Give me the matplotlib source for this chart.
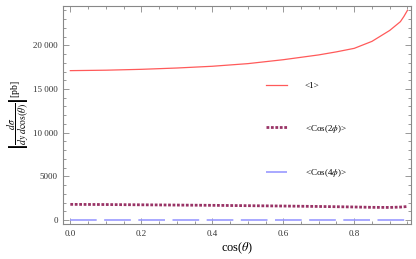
import matplotlib
matplotlib.use("Agg")
import matplotlib.pyplot as plt
from matplotlib.ticker import MultipleLocator, FuncFormatter

plt.rcParams['font.family'] = ['Liberation Serif', 'DejaVu Serif']
plt.rcParams['mathtext.fontset'] = 'stix'

# data
cos_theta = [0.0, 0.1, 0.2, 0.3, 0.4, 0.5, 0.6, 0.7, 0.75, 0.8, 0.85, 0.9, 0.93, 0.94, 0.95]
sigma_1 = [17100, 17150, 17250, 17400, 17600, 17900, 18350, 18900, 19250,
           19650, 20450, 21700, 22700, 23300, 24000]
sigma_cos2 = [1800, 1780, 1750, 1720, 1690, 1650, 1610, 1560, 1530,
              1500, 1460, 1450, 1490, 1520, 1560]
sigma_cos4 = [30, 30, 30, 30, 30, 30, 30, 30, 30, 30, 30, 30, 30, 30, 30]
labels = ['<1>', r'<Cos(2$\phi$)>', r'<Cos(4$\phi$)>']

fig = plt.figure(figsize=(4.16, 2.59), dpi=100)
ax = fig.add_axes([0.152, 0.135, 0.836, 0.842])

ax.plot(cos_theta, sigma_1, color='#ff5a5a', lw=0.9, label=labels[0])
ax.plot(cos_theta, sigma_cos2, color='#993366', lw=2.0, dashes=(1, 0.6), label=labels[1])
ax.plot(cos_theta, sigma_cos4, color='#9999ff', lw=1.2, dashes=(16, 4.5), label=labels[2])

ax.set_xlim(-0.02, 0.96)
ax.set_ylim(-450, 24500)

ax.xaxis.set_major_locator(MultipleLocator(0.2))
ax.xaxis.set_minor_locator(MultipleLocator(0.05))
ax.yaxis.set_major_locator(MultipleLocator(5000))
ax.yaxis.set_minor_locator(MultipleLocator(1000))
ax.xaxis.set_major_formatter(FuncFormatter(lambda v, p: f"{v:.1f}"))
ax.yaxis.set_major_formatter(FuncFormatter(
    lambda v, p: f"{int(v):,}".replace(',', ' ') if v >= 10000 else f"{int(v)}"))

for s in ax.spines.values():
    s.set_color('#888888')
    s.set_linewidth(0.8)
ax.tick_params(which='both', direction='in', color='#888888', top=True, right=True,
               labelsize=6.5, labelcolor='#333333', width=0.6)
ax.tick_params(which='major', length=4, pad=4)
ax.tick_params(which='minor', length=2)
ax.tick_params(top=True, right=True, labeltop=False, labelright=False)

ax.set_xlabel(r'cos($\theta$)', fontsize=9, labelpad=2)
ax.set_ylabel(r'$\left|\dfrac{d\sigma}{dy\,d\cos(\theta)}\right|$[pb]', fontsize=7)
ax.yaxis.set_label_coords(-0.128, 0.5)
ax.yaxis.label.set_va('center')

ax.legend(loc='upper left', bbox_to_anchor=(0.56, 0.69), frameon=False, fontsize=6.5,
          handlelength=2.3, handletextpad=2.0, labelspacing=3.6)

fig.savefig('out.png', dpi=100)
